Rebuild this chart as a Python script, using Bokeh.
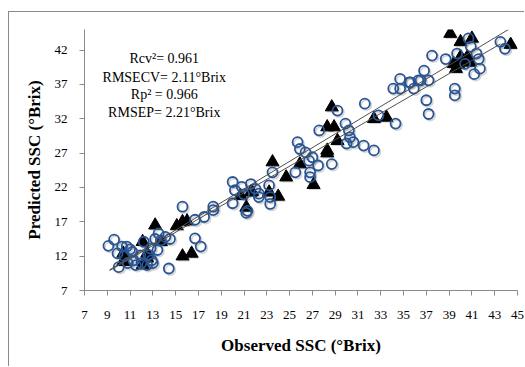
from bokeh.plotting import figure
from bokeh.models import Range1d, FixedTicker, Label
from bokeh.embed import file_html
from bokeh.resources import INLINE

# Calibration set (blue hollow circles)
cal_obs = [9.1, 9.6, 9.9, 10.0, 10.3, 10.7, 11.2, 11.3, 11.5, 11.9, 12.2, 12.5, 12.8, 12.9,
           13.4, 13.7, 13.5, 14.1, 14.4, 15.6, 16.7, 17.2, 16.7, 17.5, 18.3, 18.3, 20.0,
           10.5, 11.0, 12.0, 12.6, 13.0, 13.2, 14.5, 10.8,
           20.0, 20.2, 20.8, 21.6, 21.3, 21.2, 22.3, 22.3, 23.2, 23.3, 23.3, 23.5, 25.5,
           25.7, 25.9, 26.4, 26.7, 26.8, 26.8, 27.5, 21.0, 22.0,
           31.6, 29.2, 27.6, 29.9, 30.2, 30.3, 30.0, 30.6, 31.5, 32.4, 32.8, 34.3, 27.0,
           28.7, 34.1, 34.7, 34.7, 35.6, 36.3,
           37.5, 38.7, 36.8, 35.5, 36.5, 37.2, 35.9, 39.5, 39.5, 37.0, 37.2, 39.7, 40.7,
           40.9, 41.4, 41.6, 41.7, 41.2, 40.4, 43.5, 43.9]
cal_pred = [13.5, 14.4, 12.4, 10.4, 13.4, 13.4, 12.6, 11.4, 10.7, 12.1, 14.1, 10.7, 13.1, 11.4,
            12.9, 14.3, 15.3, 14.8, 10.2, 19.2, 14.6, 13.4, 17.3, 17.7, 18.7, 19.2, 19.7,
            12.0, 13.0, 11.0, 12.2, 11.0, 14.5, 14.5, 11.0,
            22.8, 21.6, 22.1, 22.5, 18.6, 18.3, 21.1, 20.6, 22.3, 20.6, 19.6, 24.2, 24.2,
            28.6, 27.6, 27.1, 25.9, 24.2, 23.5, 25.2, 21.0, 21.8,
            34.2, 33.2, 30.3, 31.3, 30.3, 29.3, 28.4, 28.6, 28.1, 27.4, 32.5, 31.3, 26.4,
            25.4, 36.4, 37.8, 36.4, 37.3, 37.6,
            41.2, 40.7, 39.0, 37.3, 37.6, 37.6, 36.4, 36.4, 35.4, 34.7, 32.7, 41.5, 43.7,
            42.5, 41.5, 40.7, 39.3, 38.5, 40.0, 43.2, 42.2]

# Prediction set (black triangles)
pre_obs = [10.4, 10.4, 12.1, 12.1, 12.5, 12.5, 13.2, 13.7, 15.1, 15.6, 16.0, 15.6, 16.4,
           20.7, 21.6, 21.2, 21.7, 23.2, 24.0, 23.5, 24.7, 25.9, 27.1,
           28.7, 28.3, 28.9, 29.2, 28.3, 28.3, 32.4, 33.5,
           39.1, 40.0, 41.0, 40.6, 39.4, 39.8, 44.4, 40.2, 39.6, 40.8, 40.0]
pre_pred = [12.4, 11.2, 14.1, 10.7, 12.4, 11.7, 16.5, 14.1, 16.4, 17.0, 17.1, 12.0, 12.4,
            20.8, 21.3, 19.1, 21.4, 21.3, 20.7, 25.7, 23.5, 25.4, 22.4,
            33.7, 30.8, 30.8, 28.8, 27.4, 27.0, 32.0, 32.2,
            44.4, 43.2, 43.7, 41.0, 40.0, 39.9, 42.8, 40.5, 39.3, 40.2, 41.0]

# Fitted lines (end points)
fit1_x = [9.2, 44.2]
fit1_y = [10.0, 45.0]
fit2_x = [9.2, 43.5]
fit2_y = [9.9, 42.9]

x_ticks = list(range(7, 46, 2))
y_ticks = list(range(7, 43, 5))

stats_text = ["Rcv²= 0.961", "RMSECV= 2.11°Brix", "Rp² = 0.966", "RMSEP= 2.21°Brix"]
stats_y = [40.8, 38.0, 35.5, 32.9]

p = figure(width=516, height=355, output_backend="svg", toolbar_location=None,
           x_range=Range1d(7, 45), y_range=Range1d(7, 45),
           min_border_left=75, min_border_right=8, min_border_top=17, min_border_bottom=77)
p.styles = {"border-left": "1px solid #8a8a8a", "border-top": "1px solid #8a8a8a",
            "margin-top": "11px", "margin-left": "8px"}
p.outline_line_color = None
p.grid.visible = False
p.background_fill_color = "white"
p.border_fill_color = "white"

# shadows
dx, dy = 0.13, -0.22
p.scatter([v + dx for v in pre_obs], [v + dy for v in pre_pred], marker="triangle", size=13,
          fill_color="#888888", line_color=None, fill_alpha=0.35)
p.scatter([v + dx for v in cal_obs], [v + dy for v in cal_pred], marker="circle", size=10,
          fill_alpha=0, line_color="#888888", line_alpha=0.35, line_width=1.8)

p.scatter(pre_obs, pre_pred, marker="triangle", size=13, fill_color="black", line_color="black")
p.scatter(cal_obs, cal_pred, marker="circle", size=10, fill_alpha=0,
          line_color="#2A5595", line_width=1.8)

p.line(fit1_x, fit1_y, line_color="#505050", line_width=1)
p.line(fit2_x, fit2_y, line_color="#505050", line_width=1)

for t, yy in zip(stats_text, stats_y):
    p.add_layout(Label(x=14.0, y=yy, text=t, text_align="center", text_baseline="middle",
                       text_font="Liberation Serif", text_font_size="14px", text_color="black"))

for ax in (p.xaxis[0], p.yaxis[0]):
    ax.axis_line_color = "#8a8a8a"
    ax.major_tick_line_color = "#8a8a8a"
    ax.minor_tick_line_color = None
    ax.major_tick_out = 5
    ax.major_tick_in = 0
    ax.major_label_text_font = "Liberation Serif"
    ax.major_label_text_font_size = "13px"
    ax.major_label_text_color = "black"
    ax.axis_label_text_font = "Liberation Serif"
    ax.axis_label_text_font_style = "bold"
    ax.axis_label_text_font_size = "17px"
    ax.axis_label_text_color = "black"

p.xaxis.ticker = FixedTicker(ticks=x_ticks)
p.yaxis.ticker = FixedTicker(ticks=y_ticks)
p.xaxis.axis_label = "Observed SSC (°Brix)"
p.yaxis.axis_label = "Predicted SSC (°Brix)"
p.xaxis.major_label_standoff = 15
p.yaxis.major_label_standoff = 12
p.xaxis.axis_label_standoff = 14
p.yaxis.axis_label_standoff = 8

open("out.html", "w").write(file_html(p, INLINE))
